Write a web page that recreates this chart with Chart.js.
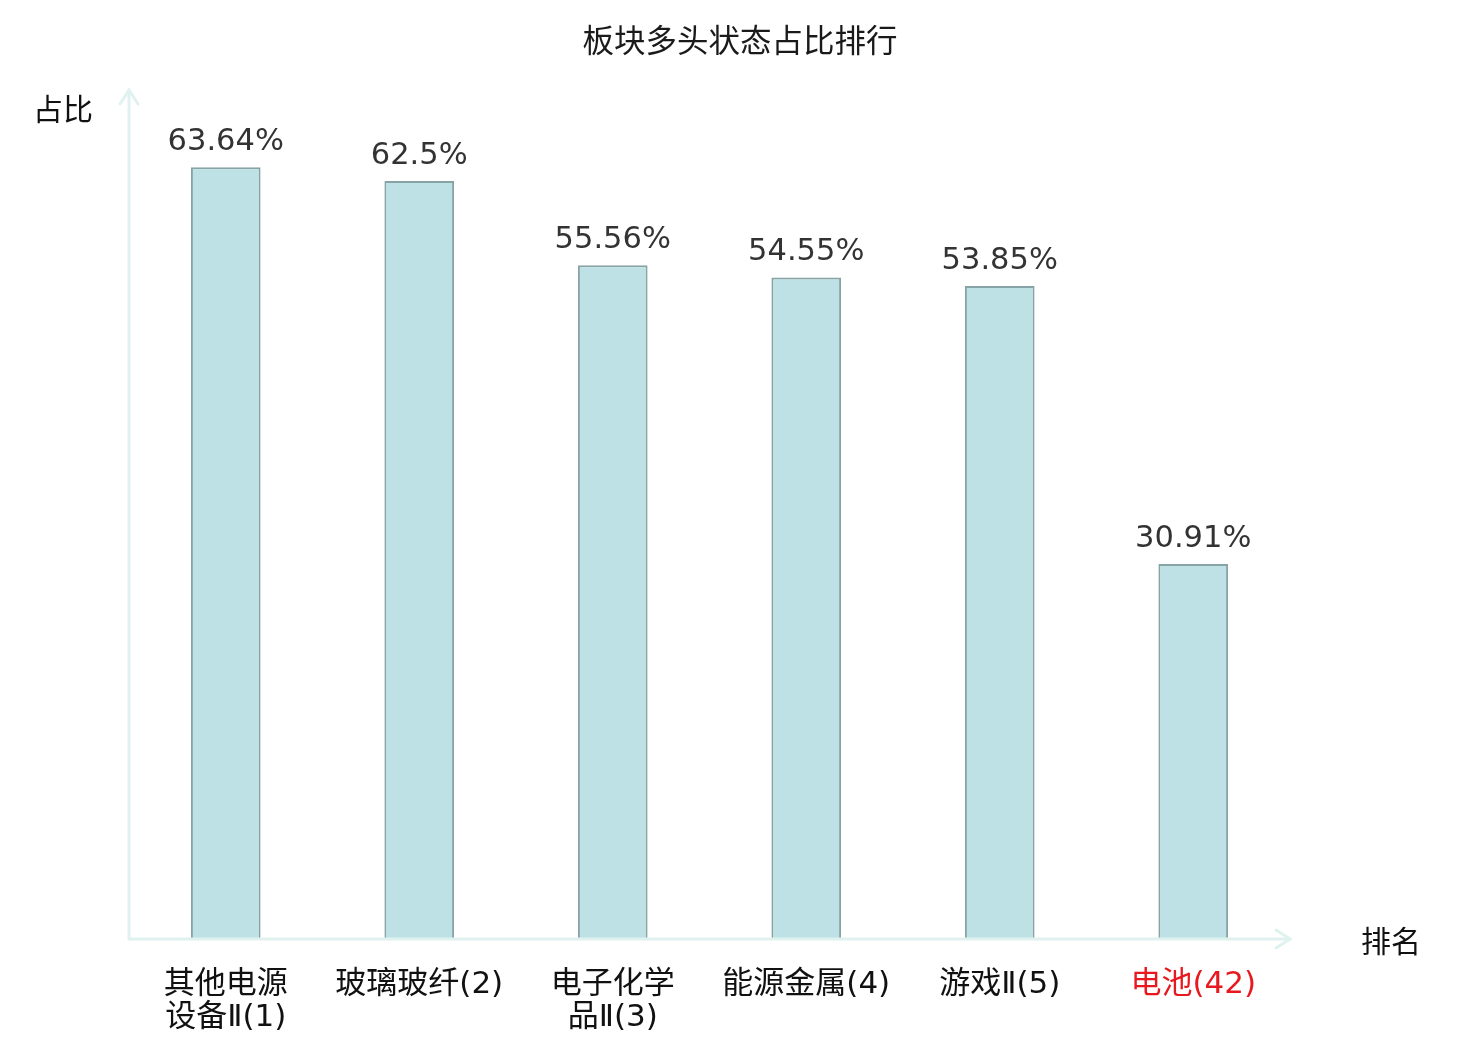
<!DOCTYPE html>
<html>
<head>
<meta charset="utf-8">
<script src="https://cdn.jsdelivr.net/npm/chart.js@4/dist/chart.umd.min.js"></script>
<style>
  html, body { margin: 0; padding: 0; background: #fff; }
  #wrap { width: 1480px; height: 1040px; }
</style>
</head>
<body>
<div id="wrap"><canvas id="chart" width="1480" height="1040"></canvas></div>
<script>
// 板块名称（已按两行拆分）与多头占比
const categories = [
    ['其他电源', '设备Ⅱ(1)'],
    '玻璃玻纤(2)',
    ['电子化学', '品Ⅱ(3)'],
    '能源金属(4)',
    '游戏Ⅱ(5)',
    '电池(42)'
];
const ratios = [63.64, 62.5, 55.56, 54.55, 53.85, 30.91];
const highlightIndex = 5; // 本板块标红

const FONT = '"DejaVu Sans", "Noto Sans CJK SC", sans-serif';
const AXIS_COLOR = '#dff2ef';

// 坐标轴、箭头、标题和数值标签
const decorPlugin = {
    id: 'decor',
    afterDatasetsDraw(chart) {
        const ctx = chart.ctx;
        const area = chart.chartArea;
        const meta = chart.getDatasetMeta(0);

        ctx.save();
        // axes
        ctx.strokeStyle = AXIS_COLOR;
        ctx.lineWidth = 3;
        ctx.lineCap = 'round';
        ctx.beginPath();
        ctx.moveTo(area.left, area.bottom);
        ctx.lineTo(area.left, area.top);
        ctx.moveTo(area.left, area.bottom);
        ctx.lineTo(area.right, area.bottom);
        ctx.stroke();
        // arrow heads
        ctx.beginPath();
        ctx.moveTo(area.left - 9, area.top + 14);
        ctx.lineTo(area.left, area.top);
        ctx.lineTo(area.left + 9, area.top + 14);
        ctx.moveTo(area.right - 14, area.bottom - 9);
        ctx.lineTo(area.right, area.bottom);
        ctx.lineTo(area.right - 14, area.bottom + 9);
        ctx.stroke();

        // title
        ctx.fillStyle = '#1a1a1a';
        ctx.font = '31.5px ' + FONT;
        ctx.textAlign = 'center';
        ctx.textBaseline = 'middle';
        ctx.fillText('板块多头状态占比排行', chart.width / 2, 44);

        // axis titles
        ctx.fillStyle = '#111';
        ctx.font = '30px ' + FONT;
        ctx.textAlign = 'left';
        ctx.fillText('占比', 33, 112);
        ctx.fillText('排名', 1361, 944);

        // value labels
        ctx.fillStyle = '#333';
        ctx.font = '30.5px ' + FONT;
        ctx.textAlign = 'center';
        ctx.textBaseline = 'alphabetic';
        meta.data.forEach((bar, i) => {
            ctx.fillText(ratios[i] + '%', bar.x, bar.y - 17);
        });
        ctx.restore();
    }
};

new Chart(document.getElementById('chart'), {
    type: 'bar',
    data: {
        labels: categories,
        datasets: [{
            label: '占比',
            data: ratios,
            backgroundColor: '#bde1e4',
            borderColor: '#88a3a5',
            borderWidth: 2,
            borderSkipped: 'bottom',
            barPercentage: 0.36,
            categoryPercentage: 1
        }]
    },
    options: {
        responsive: false,
        animation: false,
        devicePixelRatio: 1,
        layout: {
            padding: { left: 129, right: 190, top: 90, bottom: 0 }
        },
        plugins: {
            legend: { display: false },
            tooltip: { enabled: false }
        },
        scales: {
            x: {
                grid: { display: false, drawTicks: false },
                border: { display: false },
                ticks: {
                    padding: 30,
                    maxRotation: 0,
                    autoSkip: false,
                    font: { size: 31, family: FONT, lineHeight: 1.05 },
                    color: (c) => c.index === highlightIndex ? '#e8191e' : '#111'
                },
                afterFit(scale) { scale.height = 101; }
            },
            y: {
                display: false,
                min: 0,
                max: 70
            }
        }
    },
    plugins: [decorPlugin]
});
</script>
</body>
</html>
